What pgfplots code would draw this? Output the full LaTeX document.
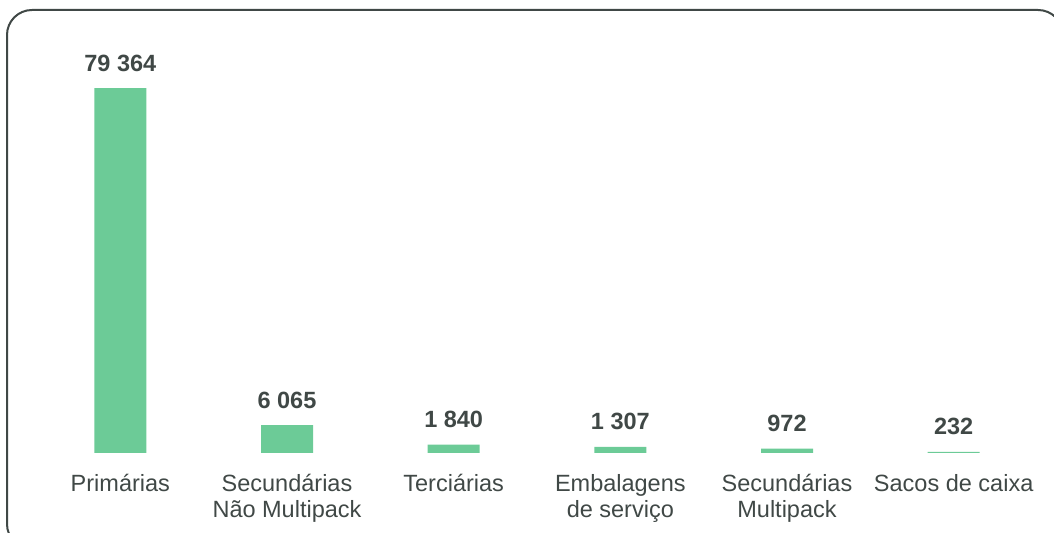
\documentclass[border=0pt]{standalone}
\usepackage{pgfplots}
\pgfplotsset{compat=1.18}
\usepackage{fontspec}
\setmainfont{Liberation Sans}
\definecolor{barGreen}{RGB}{108,203,151}
\definecolor{txtGray}{RGB}{64,72,70}
\begin{document}
\begin{tikzpicture}
% picture is 1054 x 533 px at 0.5pt per px
\path[use as bounding box, clip] (0,0) rectangle (527pt,266.5pt);
\draw[txtGray, line width=1pt, rounded corners=12.5pt] (3.5pt,-8pt) rectangle (531.5pt,261.5pt);
\begin{axis}[
  at={(18.5pt,40pt)}, anchor=south west,
  scale only axis, width=500pt, height=206.95pt,
  ybar, bar width=26pt,
  xmin=-0.5, xmax=5.5, ymin=0, ymax=90000,
  axis line style={draw=none}, major tick length=0pt,
  ytick=\empty,
  xtick={0,1,2,3,4,5},
  xticklabels={Primárias,{Secundárias\\Não Multipack},Terciárias,{Embalagens\\de serviço},{Secundárias\\Multipack},Sacos de caixa},
  xticklabel style={font=\fontsize{11.75}{13}\selectfont, text=txtGray, align=center, anchor=north, inner sep=0pt, yshift=-10.3pt},
  nodes near coords={\pgfmathprintnumber[fixed, precision=0, 1000 sep={\ }, assume math mode=true]{\pgfplotspointmeta}},
  nodes near coords style={font=\fontsize{11.75}{13}\selectfont\bfseries, text=txtGray, anchor=base, inner sep=0pt, yshift=8.5pt},
]
\addplot[fill=barGreen, draw=none] coordinates {(0,79364) (1,6065) (2,1840) (3,1307) (4,972) (5,232)};
\end{axis}
\end{tikzpicture}
\end{document}
